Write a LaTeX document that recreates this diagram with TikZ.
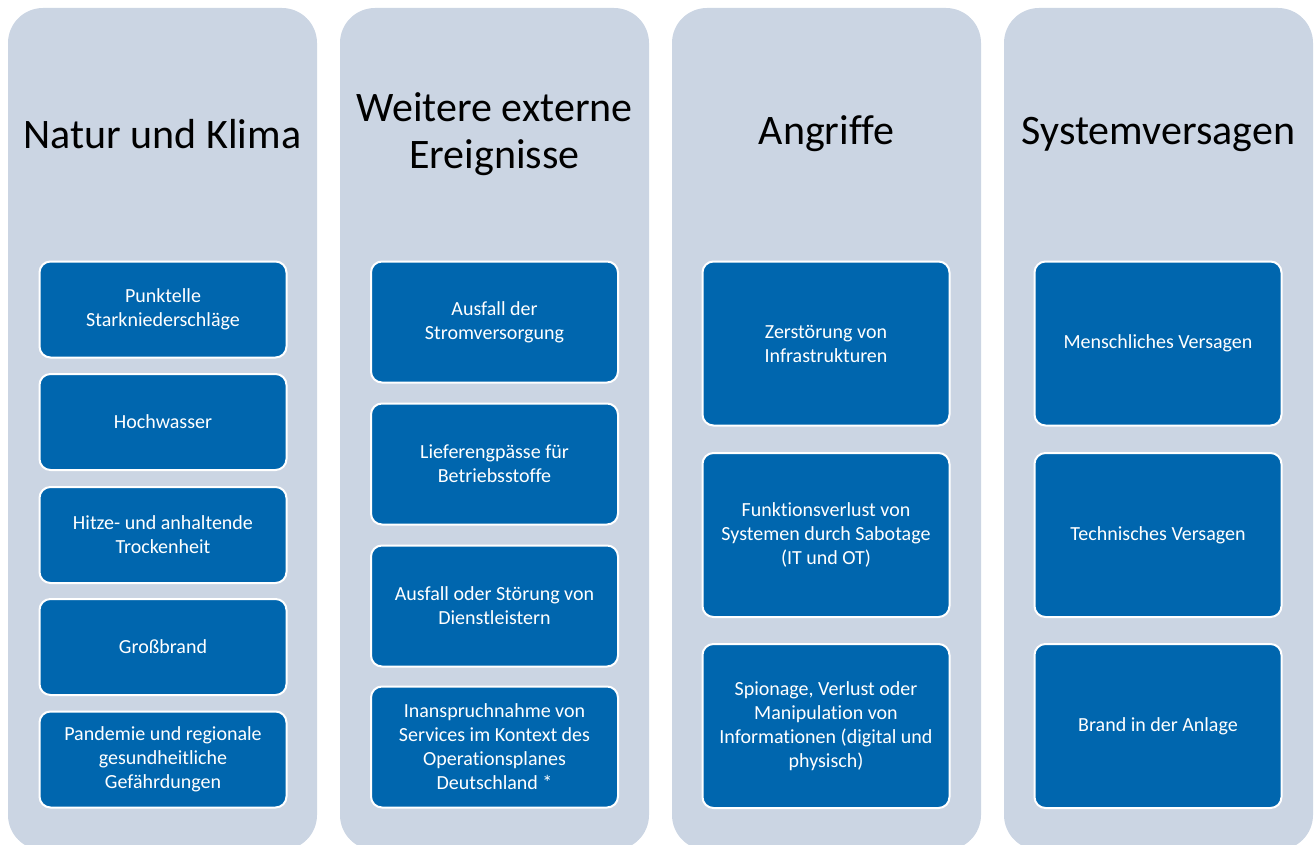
\documentclass[tikz,border=0pt]{standalone}
\usepackage{fontspec}
\setmainfont{Carlito}[Ligatures=NoCommon]
\usepackage{xcolor}
\definecolor{colbg}{RGB}{203,213,227}
\definecolor{boxblue}{RGB}{0,102,174}

\begin{document}
\begin{tikzpicture}[x=1pt,y=-1pt,
  column/.style={fill=colbg, rounded corners=35pt, minimum width=309pt, minimum height=842pt, inner sep=0pt},
  coltitle/.style={font=\fontsize{42}{47}\selectfont, align=center, text=black},
  item/.style={fill=boxblue, draw=white, line width=2pt, rounded corners=11pt, text=white, align=center, font=\fontsize{20}{24}\selectfont, minimum width=247pt, inner sep=0pt}]
  \useasboundingbox (0,0) rectangle (1316,845);
  % columns
  \node[column] (natur) at (162.5,429) {};
  \node[column] (extern) at (494.5,429) {};
  \node[column] (angriffe) at (826.5,429) {};
  \node[column] (versagen) at (1158.5,429) {};
  \node[coltitle] (naturT) at (162.5,134) {Natur und Klima};
  \node[coltitle] (externT) at (494.5,134) {Weitere externe\\Ereignisse};
  \node[coltitle] (angriffeT) at (826.5,134) {Angriffe};
  \node[coltitle] (versagenT) at (1158.5,134) {Systemversagen};
  % Natur und Klima
  \node[item, minimum height=96pt] (n1) at (163,309.5) {Punktelle\\Starkniederschläge};
  \node[item, minimum height=96pt] (n2) at (163,422) {Hochwasser};
  \node[item, minimum height=96pt] (n3) at (163,535) {Hitze- und anhaltende\\Trockenheit};
  \node[item, minimum height=96pt] (n4) at (163,647) {Großbrand};
  \node[item, minimum height=96pt] (n5) at (163,759.5) {Pandemie und regionale\\gesundheitliche\\Gefährdungen};
  % Weitere externe Ereignisse
  \node[item, minimum height=121pt] (e1) at (494.5,322) {Ausfall der\\Stromversorgung};
  \node[item, minimum height=121pt] (e2) at (494.5,464) {Lieferengpässe für\\Betriebsstoffe};
  \node[item, minimum height=121pt] (e3) at (494.5,606) {Ausfall oder Störung von\\Dienstleistern};
  \node[item, minimum height=121pt] (e4) at (494.5,747) {Inanspruchnahme von\\Services im Kontext des\\Operationsplanes\\Deutschland *};
  % Angriffe
  \node[item, minimum height=164pt] (a1) at (826,343.5) {Zerstörung von\\Infrastrukturen};
  \node[item, minimum height=164pt] (a2) at (826,535) {Funktionsverlust von\\Systemen durch Sabotage\\(IT und OT)};
  \node[item, minimum height=164pt] (a3) at (826,726) {Spionage, Verlust oder\\Manipulation von\\Informationen (digital und\\physisch)};
  % Systemversagen
  \node[item, minimum height=164pt] (s1) at (1158,343.5) {Menschliches Versagen};
  \node[item, minimum height=164pt] (s2) at (1158,535) {Technisches Versagen};
  \node[item, minimum height=164pt] (s3) at (1158,726) {Brand in der Anlage};
\end{tikzpicture}
\end{document}
